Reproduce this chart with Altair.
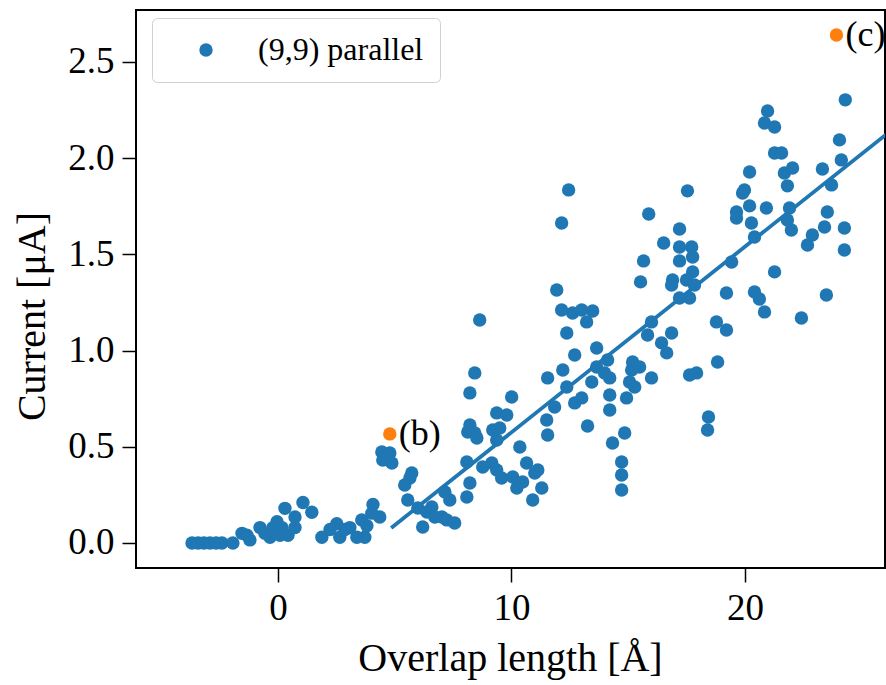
import altair as alt
import pandas as pd

# (9,9) parallel: overlap length [Å] and current [µA]
overlap = [
    -3.68, -3.42, -3.17, -2.91, -2.65, -2.40,
    -1.93, -1.54, -1.20, -1.33, -0.77, -0.34, -0.04, 0.17, 0.43, 0.73, 0.30, 1.07, 1.45, 0.73, -0.56, -0.21, 0.09,
    1.88, 2.52, 2.65, 3.08, 3.38, 3.72, 3.81, 4.07, 4.36, 4.02, 3.59, 2.23, 2.87,
    4.45, 4.79, 4.49, 4.88, 5.73, 5.65, 5.43, 5.56, 5.99, 6.20, 6.38, 6.59, 6.72, 7.02, 7.23, 7.57, 7.36, 8.09,
    8.22, 8.09, 8.13, 8.22, 8.43, 8.52, 8.22, 8.43, 8.64, 10.01, 9.37, 9.80, 9.20, 9.50, 9.37, 10.36, 8.77, 9.16,
    9.37, 9.58, 10.06, 10.23, 10.65, 10.91, 11.00, 7.15,
    11.94, 12.15, 12.62, 13.01, 13.48, 13.22, 12.37, 12.71, 13.65, 14.12, 11.55, 12.20, 12.37, 13.65, 13.99, 14.21,
    13.44, 15.19, 15.49, 15.15, 16.00, 15.06, 15.28, 16.00, 15.83, 16.86, 16.43, 16.65, 17.63, 17.93, 14.21, 14.21,
    14.93, 12.71, 13.01, 11.85, 11.51, 11.55, 13.26, 14.85, 14.33, 14.72, 14.72, 14.72, 11.13, 10.48, 11.30,
    12.45, 12.15, 17.54, 15.88, 17.20, 16.52, 17.20, 17.72, 17.76, 17.20, 15.66, 15.53, 16.90, 16.86, 17.76, 17.50,
    17.84, 17.20, 17.63, 19.21, 18.78, 19.21, 18.83, 18.44, 18.40,
    24.30, 20.97, 20.84, 21.27, 24.05, 21.27, 21.57, 24.13, 20.20, 21.69, 22.04, 23.32, 21.82, 23.71, 19.98, 19.90,
    20.20, 19.64, 19.64, 20.92, 20.28, 21.91, 21.82, 21.99, 23.53, 23.41, 24.26, 24.26, 22.89, 22.68, 20.41, 19.43,
    21.27, 20.41, 20.62, 20.84, 23.49, 22.42,
]
current = [
    0.0, 0.0, 0.0, 0.0, 0.0, 0.0,
    0.00, 0.05, 0.016, 0.04, 0.08, 0.03, 0.11, 0.08, 0.04, 0.08, 0.18, 0.21, 0.16, 0.135, 0.05, 0.08, 0.04,
    0.03, 0.10, 0.03, 0.08, 0.03, 0.03, 0.09, 0.20, 0.135, 0.155, 0.12, 0.07, 0.07,
    0.473, 0.468, 0.431, 0.416, 0.364, 0.338, 0.301, 0.223, 0.182, 0.083, 0.161, 0.187, 0.135, 0.135, 0.12, 0.104, 0.223, 0.239,
    0.312, 0.421, 0.577, 0.613, 0.572, 0.546, 0.78, 0.884, 1.159, 0.759, 0.676, 0.665, 0.587, 0.598, 0.535, 0.499, 0.395, 0.416,
    0.379, 0.338, 0.343, 0.286, 0.416, 0.223, 0.364, 0.265,
    1.315, 1.211, 1.195, 1.211, 1.206, 1.149, 1.091, 0.977, 1.013, 0.951, 0.858, 0.899, 0.811, 0.915, 0.884, 0.858,
    0.837, 0.941, 0.915, 0.899, 0.858, 0.837, 0.811, 1.149, 1.081, 1.091, 1.040, 0.988, 0.873, 0.884, 0.769, 0.691,
    0.754, 0.728, 0.754, 0.707, 0.639, 0.561, 0.608, 0.572, 0.520, 0.421, 0.353, 0.275, 0.379, 0.317, 0.286,
    1.835, 1.663, 1.830, 1.710, 1.632, 1.559, 1.538, 1.538, 1.486, 1.466, 1.466, 1.357, 1.367, 1.341, 1.409, 1.367,
    1.341, 1.273, 1.273, 1.299, 1.149, 1.107, 0.941, 0.655, 0.587,
    2.303, 2.245, 2.183, 2.162, 2.095, 2.027, 2.027, 1.991, 1.928, 1.923, 1.949, 1.944, 1.856, 1.861, 1.835, 1.819,
    1.752, 1.720, 1.689, 1.741, 1.663, 1.741, 1.679, 1.627, 1.720, 1.642, 1.637, 1.523, 1.601, 1.549, 1.590, 1.460,
    1.409, 1.305, 1.268, 1.201, 1.289, 1.169,
]

# highlighted configurations
hl_overlap = [4.79, 23.92]
hl_current = [0.567, 2.640]
hl_labels = ["(b)", "(c)"]

# linear fit
fit_overlap = [4.85, 26.5]
fit_current = [0.078, 2.167]

series_name = "(9,9) parallel"
BLUE = "#1f77b4"
ORANGE = "#ff7f0e"
FONT = "Liberation Serif"

df = pd.DataFrame({"x": overlap, "y": current, "series": series_name})
df_hl = pd.DataFrame({"x": hl_overlap, "y": hl_current, "label": hl_labels})
df_fit = pd.DataFrame({"x": fit_overlap, "y": fit_current})

xscale = alt.Scale(domain=[-6.08, 26.0], nice=False, zero=False)
yscale = alt.Scale(domain=[-0.13, 2.77], nice=False, zero=False)

xax = alt.Axis(values=[0, 10, 20], format="d", title="Overlap length [Å]",
               titleX=374, titleY=102, titleBaseline="alphabetic", titleAlign="center")
yax = alt.Axis(values=[0, 0.5, 1.0, 1.5, 2.0, 2.5], format=".1f", title="Current [μA]",
               titleX=-104, titleY=306, titleAngle=-90, titleBaseline="middle", titleAlign="center")

points = alt.Chart(df).mark_point(filled=True, size=180, opacity=1, clip=True).encode(
    x=alt.X("x:Q", scale=xscale, axis=xax),
    y=alt.Y("y:Q", scale=yscale, axis=yax),
    color=alt.Color("series:N", scale=alt.Scale(domain=[series_name], range=[BLUE]),
                    legend=alt.Legend(title=None, orient="none", legendX=16, legendY=8,
                                      symbolType="circle", symbolSize=180, symbolOffset=22,
                                      labelOffset=36, padding=16, labelFontSize=32,
                                      labelFont=FONT, labelColor="black", labelLimit=500,
                                      strokeColor="#d0d0d0", fillColor="white",
                                      cornerRadius=5)),
)

fit = alt.Chart(df_fit).mark_line(color=BLUE, strokeWidth=3.8, clip=True).encode(
    x=alt.X("x:Q", scale=xscale), y=alt.Y("y:Q", scale=yscale)
)

hl = alt.Chart(df_hl).mark_point(filled=True, size=180, opacity=1, color=ORANGE).encode(
    x=alt.X("x:Q", scale=xscale), y=alt.Y("y:Q", scale=yscale)
)

hl_text = alt.Chart(df_hl).mark_text(align="left", baseline="middle", dx=9, dy=0,
                                     font=FONT, fontSize=36, color="black").encode(
    x=alt.X("x:Q", scale=xscale), y=alt.Y("y:Q", scale=yscale), text="label:N"
)

chart = alt.layer(fit, points, hl, hl_text).properties(
    width=749, height=558,
    autosize=alt.AutoSizeParams(type="none"),
    padding={"left": 136, "top": 10, "right": 1, "bottom": 117},
    background="white",
).configure_view(
    stroke="black", strokeWidth=2
).configure_axis(
    labelFont=FONT, labelFontSize=37, labelColor="black",
    titleFont=FONT, titleFontSize=40, titleFontWeight="normal", titleColor="black",
    tickColor="black", tickSize=14, tickWidth=1.5, domain=False, grid=False,
    labelPadding=8,
)

chart.save("out.html", embed_options={"renderer": "svg", "actions": False})
